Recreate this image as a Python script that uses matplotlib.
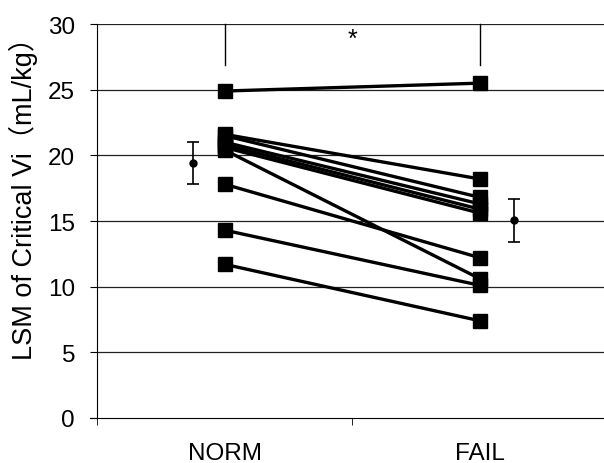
import matplotlib
matplotlib.use("Agg")
import matplotlib.pyplot as plt
import numpy as np

plt.rcParams['font.family'] = ['Liberation Sans', 'Noto Sans CJK JP', 'DejaVu Sans']

# paired values per subject
groups = ["NORM", "FAIL"]
norm_vals = [24.9, 21.6, 21.5, 21.0, 20.8, 20.6, 20.4, 17.8, 14.3, 11.7]
fail_vals = [25.5, 18.2, 16.8, 16.3, 15.9, 15.6, 10.6, 12.2, 10.1, 7.4]

# group mean and error bar
group_means = [19.45, 15.05]
group_errs = [1.6, 1.63]
mean_offsets = [-0.125, 0.133]

y_ticks = [0, 5, 10, 15, 20, 25, 30]

fig = plt.figure(figsize=(6.04, 4.64), dpi=100)
ax = fig.add_axes([0.161, 0.097, 0.845, 0.849])

# grid lines
for t in y_ticks[1:]:
    ax.axhline(t, color="#222222", lw=0.9, zorder=1)

# subject lines
for a, b in zip(norm_vals, fail_vals):
    ax.plot([0, 1], [a, b], color="black", lw=2.4, marker="s",
            markersize=10.5, markerfacecolor="black", markeredgecolor="black",
            zorder=3)

# mean +- error
for i in range(2):
    ax.errorbar(i + mean_offsets[i], group_means[i], yerr=group_errs[i],
                fmt="o", color="black", markersize=5, capsize=4,
                elinewidth=1.2, capthick=1.2, zorder=4)

# significance bracket
ax.plot([0, 0], [30, 26.9], color="black", lw=1.0, clip_on=False)
ax.plot([1, 1], [30, 26.9], color="black", lw=1.0, clip_on=False)
ax.text(0.5, 28.9, "*", ha="center", va="center", fontsize=18)

ax.set_xlim(-0.5, 1.5)
ax.set_ylim(0, 30)
ax.set_yticks(y_ticks)
ax.set_yticklabels([str(t) for t in y_ticks], fontsize=17.5)
ax.set_xticks([0, 1])
ax.set_xticklabels(groups, fontsize=17.5)
ax.set_xticks([-0.5, 0.5, 1.5], minor=True)
ax.tick_params(axis="x", which="major", length=0, pad=17)
ax.tick_params(axis="x", which="minor", length=5, direction="out")
ax.tick_params(axis="y", length=5, direction="out", pad=11)
ax.set_ylabel("LSM of Critical Vi（mL/kg）", fontsize=19.5, labelpad=6)
ax.yaxis.set_label_coords(-0.117, 0.575)

ax.spines["top"].set_visible(False)
ax.spines["right"].set_visible(False)
ax.spines["bottom"].set_bounds(-0.53, 1.5)

fig.savefig("out.png", dpi=100)
